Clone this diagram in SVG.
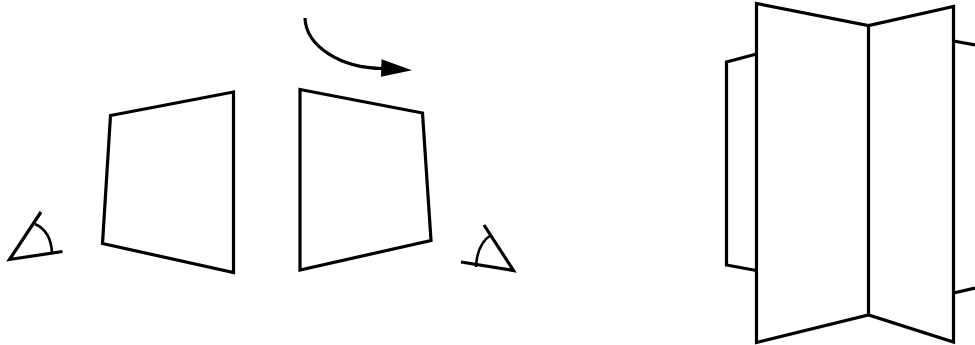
<svg xmlns="http://www.w3.org/2000/svg" width="975" height="345" viewBox="0 0 975 345">
<style>
.l{fill:none;stroke:#000;stroke-width:3.2;stroke-linejoin:miter}
.t{fill:none;stroke:#000;stroke-width:2.6}
</style>
<rect width="975" height="345" fill="#fff"/>
<g id="left-panel"><path class="l" d="M233.500 92L110.500 115.500L102.500 243.500L233.500 272.500Z"/></g>
<g id="right-panel"><path class="l" d="M300 89.500L422.500 113L431 240.500L300 270Z"/></g>
<g id="left-eye"><path class="l" d="M41 212L9.500 259.500L62.500 251.500"/><path class="t" d="M35 224Q51 231 52 253"/></g>
<g id="right-eye"><path class="l" d="M484 225L513.500 270.500L461 262"/><path class="t" d="M491 235Q477 244 476 267"/></g>
<g id="rotation-arrow"><path class="l" d="M305 18C306 46 340 68 383 68.500"/><path d="M381.500 59.300L412 70.300L381 76.700Z" fill="#000"/></g>
<g id="folded-panels">
<path class="l" d="M756.500 3.500L868.500 25.500L953.500 6.500V342L868.500 315L756.500 342.500Z"/>
<path class="l" d="M868.500 25.500V315"/>
<path class="l" d="M756.500 54L726.500 62V265L756.500 270.500"/>
<path class="l" d="M953.500 41L975 45"/>
<path class="l" d="M953.500 293L975 288"/>
</g>
</svg>
